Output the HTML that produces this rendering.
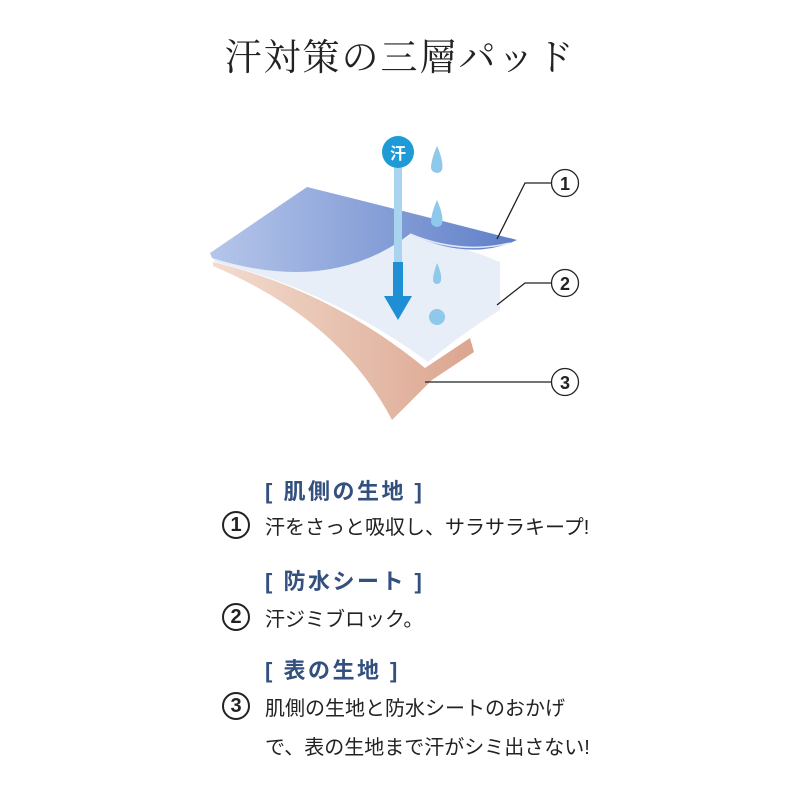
<!DOCTYPE html>
<html><head><meta charset="utf-8"><style>
body{margin:0;width:800px;height:800px;background:#fff;overflow:hidden;position:relative;font-family:"Liberation Sans","Noto Sans CJK JP",sans-serif}
.t{position:absolute;white-space:nowrap}
.title{left:0;width:800px;text-align:center;top:27px;font-family:"Liberation Serif","Noto Serif CJK SC",serif;font-size:37px;color:#222;letter-spacing:2px}
.h{color:#33507e;font-weight:bold;font-size:22px;left:265px;letter-spacing:2.5px}
.b{color:#222;font-size:20px;left:265px;letter-spacing:0}
.n{position:absolute;left:222px;width:28px;height:28px;border:2px solid #222;border-radius:50%;box-sizing:border-box;text-align:center;font-weight:bold;font-size:20px;line-height:24px;color:#222}
</style></head><body>
<div class="t title">汗対策の三層パッド</div>
<svg width="800" height="800" style="position:absolute;left:0;top:0">
<defs>
<linearGradient id="bl" x1="0" x2="1"><stop offset="0" stop-color="#b6c6ea"/><stop offset="1" stop-color="#5f7fc8"/></linearGradient>
<linearGradient id="pk" x1="0" x2="1"><stop offset="0" stop-color="#f3dccf"/><stop offset="1" stop-color="#dba58f"/></linearGradient>
</defs>
<path d="M213,262 Q330,290 425,368 L470,338 L474,352 L432,380 L392,420 Q340,320 213,266 Z" fill="url(#pk)"/>
<path d="M213,258 Q330,285 410,235 Q460,245 500,262 L500,310 Q460,335 428,362 Q330,290 215,262 Z" fill="#e8eef7"/>
<path d="M210,253 L307,187 Q420,215 517,240 Q470,262 410,234 Q330,295 212,258 Z" fill="url(#bl)"/>
<path d="M410,234 Q460,255 510,243" stroke="#dfe8f8" stroke-width="1.5" fill="none"/>
<rect x="394" y="165" width="8" height="100" fill="#a9d4f0"/>
<rect x="393" y="262" width="10" height="36" fill="#1e8fd5"/>
<polygon points="384,296 412,296 398,320" fill="#1e8fd5"/>
<circle cx="398" cy="152" r="16" fill="#1e9bd7"/>
<text x="398" y="159" font-size="16" font-weight="bold" fill="#fff" text-anchor="middle" font-family="Noto Sans CJK JP,sans-serif">汗</text>
<g fill="#8ec8ea"><path d="M437,146 Q444,162 442,170 A6,6 0 0 1 431,168 Q431,160 437,146Z"/><path d="M437,200 Q444,216 442,224 A6,6 0 0 1 431,222 Q431,214 437,200Z"/><path d="M437,263 Q442,274 441,280 A4,4 0 0 1 433,280 Q433,274 437,263Z"/></g>
<circle cx="437" cy="317" r="8" fill="#8ec8ea"/>
<g stroke="#222" stroke-width="1.3" fill="none"><path d="M497,239 L525,183 L551,183"/><path d="M497,305 L525,283 L551,283"/><path d="M425,382 L551,382"/>
<circle cx="565" cy="183" r="13.5"/><circle cx="565" cy="283" r="13.5"/><circle cx="565" cy="382" r="13.5"/></g>
<g font-size="18" font-weight="bold" text-anchor="middle" fill="#222" font-family="Liberation Sans,sans-serif"><text x="565" y="190">1</text><text x="565" y="290">2</text><text x="565" y="389">3</text></g>
</svg>
<div class="t h" style="top:474px">[ 肌側の生地 ]</div>
<div class="n" style="top:511px">1</div><div class="t b" style="top:511px">汗をさっと吸収し、サラサラキープ!</div>
<div class="t h" style="top:564px">[ 防水シート ]</div>
<div class="n" style="top:603px">2</div><div class="t b" style="top:603px">汗ジミブロック。</div>
<div class="t h" style="top:653px">[ 表の生地 ]</div>
<div class="n" style="top:692px">3</div><div class="t b" style="top:692px">肌側の生地と防水シートのおかげ</div>
<div class="t b" style="top:731px">で、表の生地まで汗がシミ出さない!</div>
</body></html>
